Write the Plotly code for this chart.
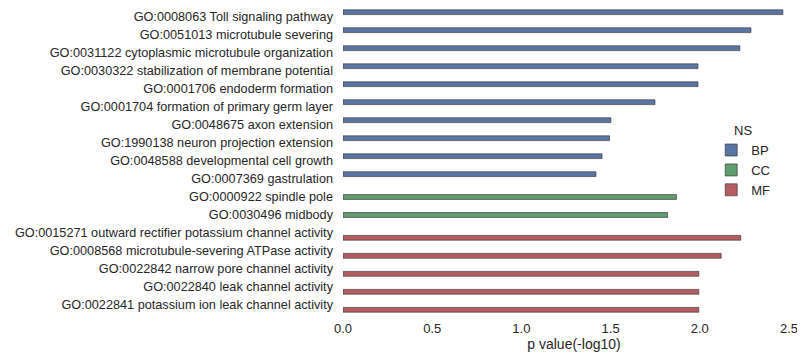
import plotly.graph_objects as go

terms = [
    "GO:0008063 Toll signaling pathway",
    "GO:0051013 microtubule severing",
    "GO:0031122 cytoplasmic microtubule organization",
    "GO:0030322 stabilization of membrane potential",
    "GO:0001706 endoderm formation",
    "GO:0001704 formation of primary germ layer",
    "GO:0048675 axon extension",
    "GO:1990138 neuron projection extension",
    "GO:0048588 developmental cell growth",
    "GO:0007369 gastrulation",
    "GO:0000922 spindle pole",
    "GO:0030496 midbody",
    "GO:0015271 outward rectifier potassium channel activity",
    "GO:0008568 microtubule-severing ATPase activity",
    "GO:0022842 narrow pore channel activity",
    "GO:0022840 leak channel activity",
    "GO:0022841 potassium ion leak channel activity",
]
ns = ["BP"] * 10 + ["CC"] * 2 + ["MF"] * 5
pvals = [2.466, 2.287, 2.225, 1.99, 1.99, 1.749, 1.502, 1.494, 1.452, 1.418,
         1.87, 1.82, 2.23, 2.12, 1.995, 1.995, 1.995]

groups = ["BP", "CC", "MF"]
colors = {"BP": "#5975a4", "CC": "#5f9e6e", "MF": "#b55d60"}

slot = 0.8 / len(groups)
fig = go.Figure()
for i, g in enumerate(groups):
    ys = [t for t, n in zip(terms, ns) if n == g]
    xs = [v for v, n in zip(pvals, ns) if n == g]
    fig.add_trace(go.Bar(
        x=xs, y=ys, orientation="h", name=g,
        width=slot, offset=-0.4 + i * slot,
        marker=dict(color=colors[g], line=dict(color="rgba(60,60,60,0.85)", width=0.8)),
    ))

fig.update_layout(
    width=805, height=362,
    margin=dict(l=335, r=8, t=0, b=56),
    paper_bgcolor="white", plot_bgcolor="white",
    barmode="overlay",
    font=dict(family="Liberation Sans, Arial, sans-serif", size=13, color="#262626"),
    xaxis=dict(range=[0, 2.59], tickvals=[0, 0.5, 1.0, 1.5, 2.0, 2.5],
               ticktext=["0.0", "0.5", "1.0", "1.5", "2.0", "2.5"],
               showgrid=False, zeroline=False, showline=False, ticks="",
               automargin=False, ticklabelstandoff=5,
               title=dict(text="p value(-log10)", standoff=3, font=dict(size=14))),
    yaxis=dict(categoryorder="array", categoryarray=terms, autorange="reversed",
               showgrid=False, zeroline=False, showline=False, ticks="",
               ticklabelstandoff=9, automargin=False, tickfont=dict(size=12.7)),
    legend=dict(title=dict(text="NS", side="top center", font=dict(size=13)),
                x=0.797, y=0.64,
                xanchor="left", yanchor="top", bgcolor="rgba(0,0,0,0)",
                itemwidth=30, tracegroupgap=2),
    showlegend=True,
)

fig.write_html("out.html")
